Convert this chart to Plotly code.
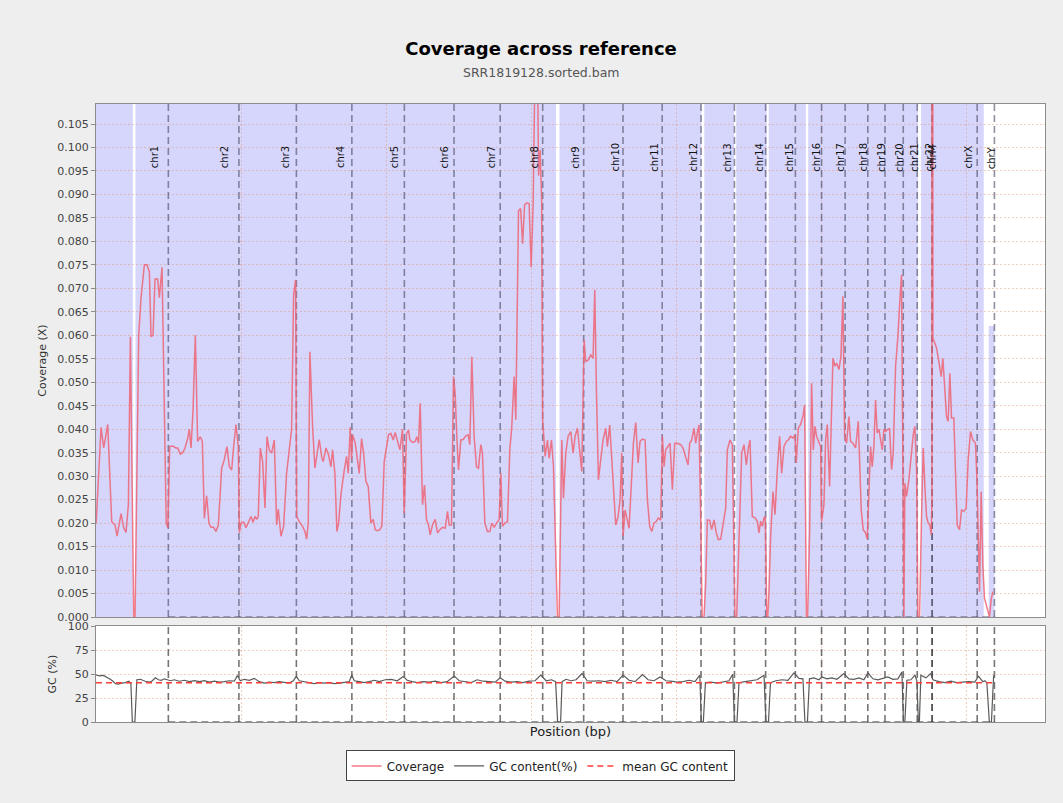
import plotly.graph_objects as go

# ---------------- data ----------------
chrom_names = ["chr1", "chr2", "chr3", "chr4", "chr5", "chr6", "chr7", "chr8", "chr9", "chr10",
               "chr11", "chr12", "chr13", "chr14", "chr15", "chr16", "chr17", "chr18", "chr19",
               "chr20", "chr21", "chr22", "chrM", "chrX", "chrY"]
chrom_lengths_mb = [249.25, 243.20, 198.02, 191.15, 180.92, 171.12, 159.14, 146.36, 141.21, 135.53,
                    135.01, 133.85, 115.17, 107.35, 102.53, 90.35, 81.20, 78.08, 59.13,
                    63.03, 48.13, 51.30, 0.017, 155.27, 59.37]

# coverage (X) along the genome, position in Mb
cov_pos_mb = [
    0.5, 17.5, 26.6, 40.4, 54.2, 65.7, 72.5, 86.3, 95.5, 103.5, 111.6, 118.5, 130, 134.5, 147.2, 155.2,
    166.7, 175.9, 183.9, 189.6, 196.5, 203.4, 212.6, 218.3, 227.5, 236, 242, 247.5,
    253.9, 264.2, 275.7, 281.5, 290.6, 298.7, 306.7, 315.9, 321.6, 327.4, 334.3, 342.3, 350.3, 359.5,
    366.4, 373.3, 381.3, 389.3, 396.2, 405.4, 413.5, 421.5, 433, 442.1, 451.3, 459.4, 467.4, 474.3,
    482.3, 490.3,
    494, 499.5, 508.7, 516.7, 524.8, 534, 540.9, 547.7, 554.6, 559.2, 566.1, 574.1, 582.2, 589.1,
    597.1, 605.1, 614.3, 622.4, 628.1, 637.3, 646.5, 656.8, 665.9, 674, 680.9, 687.8,
    691.5, 700.4, 711.9, 719.9, 725.7, 731.4, 737.1, 746.3, 754.3, 761.2, 769.3, 778.5, 783.1, 792.3,
    801.4, 809.5, 815.2, 823.2, 830.1, 835.9, 843.9, 855.4, 863.4, 869.2, 876, 880.6,
    884.1, 893.3, 901.3, 907.1, 915.1, 922, 930, 938, 947.2, 955.2, 962.1, 970.2, 978.2, 985.1,
    993.1, 1001.2, 1008, 1016.1, 1024.1, 1031, 1039, 1047.1, 1056.2, 1062,
    1070, 1076.9, 1081.5, 1090.7, 1099.9, 1105.6, 1111.3, 1117.1, 1125.1, 1132, 1138.9, 1145.8,
    1151.5, 1159.5, 1168.7, 1176.8, 1184.8, 1194, 1203.2, 1211.2, 1216.9, 1225, 1231.9,
    1237.6, 1243.3, 1249.1, 1257.1, 1265.1, 1274.3, 1282.4, 1288.1, 1295, 1303, 1311, 1317.9, 1326,
    1331.7, 1339.8, 1348.9, 1357, 1363.9, 1371.9, 1380, 1389.1, 1394.9,
    1400.6, 1408.7, 1417.8, 1425.9, 1432.7, 1440.8, 1446.5, 1455.9, 1463.1, 1470, 1476.9, 1485.5,
    1492.5, 1499.4, 1506.3, 1513.2, 1520.1, 1525.1, 1530.3, 1535.5, 1538.9,
    1547.6, 1555.6, 1561.3, 1569.4, 1576.3, 1584.3, 1590, 1595.8, 1605, 1610.7, 1618.7, 1626.8, 1636,
    1644, 1650.9, 1658.9, 1667, 1673.8, 1681.9,
    1687.6, 1696.8, 1704.8, 1712.8, 1718.6, 1724.3, 1731.2, 1739.2, 1747.3, 1756.5, 1762.2, 1770.2,
    1777.1, 1784, 1790.9, 1798.9, 1805.8, 1811.5, 1816.1,
    1823, 1831.1, 1836.8, 1844.8, 1851.7, 1859.8, 1867.8, 1874.7, 1882.7, 1891.9, 1899.9, 1908,
    1914.9, 1922.9, 1930.9, 1937.8, 1945.9, 1951.6,
    1957.3, 1963.1, 1971.1, 1978, 1986, 1994.1, 2003.2, 2014.7, 2022.7, 2031.9, 2039.9, 2045.7,
    2052.6, 2060.6, 2066.4, 2072.1, 2077.8, 2083.6,
    2088.5, 2095.1, 2100.8, 2106.5, 2114.6, 2121.5, 2129.5, 2137.5, 2144.4, 2152.5, 2160.5, 2169.7,
    2175.4, 2184.6, 2192.6, 2198.4,
    2201.8, 2207.6, 2215.6, 2224.8, 2232.9, 2240.9, 2247.8, 2253.5, 2261.5, 2270.7, 2278.7, 2284.5,
    2290.2, 2295.9, 2301.7, 2306,
    2311.5, 2315, 2318.9, 2324.6, 2332.7, 2339.6, 2347.6, 2355.6, 2362.5, 2370.6, 2378.6, 2385.5,
    2393.5, 2401.5, 2408.4,
    2413, 2419.9, 2427.9, 2436, 2441.7, 2448, 2452, 2458.9, 2465.8, 2471.6, 2477.3, 2483, 2491.1, 2496.8,
    2500.3, 2508.3, 2514, 2519.8, 2527.8, 2533.5, 2539.3, 2546.2, 2551.9, 2559.9, 2566.8, 2573.7, 2579.5,
    2586.3, 2594.4, 2600.1, 2608.1, 2617.3, 2626.5, 2631.1, 2636.8, 2643.7, 2651.8, 2657.5,
    2663.3, 2669, 2674.7, 2680.5, 2686.2, 2691.9, 2697.7, 2703.4, 2709.2, 2714.9,
    2720.6, 2728.7, 2734.4, 2741.3, 2747, 2755.1, 2763.1, 2770, 2775.7, 2780.3,
    2783.8, 2787.2, 2792.9, 2801, 2809, 2815.9, 2821.6, 2827.4,
    2832, 2837.7, 2844.6, 2850.3, 2856.1, 2861.8, 2867.5, 2873.3, 2877.9, 2880.5,
    2881.03,
    2883.6, 2890.5, 2896.2, 2904.3, 2912.3, 2918.1, 2923.8, 2930.7, 2936.4, 2942.2, 2947.9, 2955.9,
    2961.7, 2967.4, 2975.5, 2982.3, 2990.4, 2998.4, 3005.3, 3013.3, 3021.4, 3030.5, 3036,
    3044.3, 3050.1, 3055.8, 3061.5, 3070.7, 3078.8, 3084.5, 3090.3,
]
cov_values = [
    0.020, 0.0404, 0.036, 0.041, 0.0203, 0.0196, 0.0172, 0.022, 0.019, 0.018, 0.024, 0.0597, 0, 0, 0.060, 0.068,
    0.075, 0.075, 0.0735, 0.0597, 0.060, 0.072, 0.072, 0.068, 0.0745, 0.038, 0.020, 0.019,
    0.0363, 0.0364, 0.036, 0.036, 0.0347, 0.035, 0.036, 0.038, 0.040, 0.036, 0.044, 0.060, 0.0374, 0.0384,
    0.0374, 0.021, 0.0258, 0.020, 0.0191, 0.0191, 0.0182, 0.0196, 0.0317, 0.0335, 0.0363, 0.032, 0.0313, 0.0363,
    0.041, 0.0363,
    0.018, 0.020, 0.0202, 0.019, 0.0202, 0.0214, 0.0202, 0.0214, 0.0208, 0.0215, 0.036, 0.0331, 0.0232, 0.0384,
    0.0356, 0.0349, 0.0377, 0.0196, 0.023, 0.0172, 0.0193, 0.0306, 0.0356, 0.040, 0.0686, 0.0718,
    0.0214, 0.0203, 0.0193, 0.0182, 0.0166, 0.020, 0.0565, 0.0405, 0.0317, 0.0349, 0.0378, 0.0338, 0.0331, 0.036,
    0.0345, 0.032, 0.0356, 0.0306, 0.0182, 0.020, 0.026, 0.0313, 0.0342, 0.0306, 0.0404, 0.0335,
    0.0388, 0.037, 0.0328, 0.0306, 0.038, 0.0349, 0.0289, 0.0278, 0.020, 0.0208, 0.0186, 0.0184, 0.0186, 0.0194,
    0.0331, 0.0363, 0.0388, 0.0391, 0.0377, 0.0393, 0.0374, 0.0356, 0.040, 0.0221,
    0.0391, 0.0398, 0.0377, 0.0372, 0.0374, 0.0384, 0.037, 0.0455, 0.0239, 0.0281, 0.0207, 0.0196,
    0.0175, 0.0196, 0.0208, 0.0179, 0.0186, 0.0191, 0.0189, 0.0225, 0.0196, 0.0196, 0.0512,
    0.0476, 0.0384, 0.0313, 0.0377, 0.0378, 0.0386, 0.0388, 0.0367, 0.0554, 0.0384, 0.032, 0.0317, 0.0367,
    0.0349, 0.020, 0.0182, 0.0182, 0.020, 0.0191, 0.020, 0.0207, 0.0306,
    0.0193, 0.020, 0.0203, 0.0356, 0.0406, 0.0512, 0.042, 0.0865, 0.087, 0.0795, 0.0878, 0.0882,
    0.088, 0.0745, 0.088, 0.120, 0.125, 0.094, 0.0995, 0.089, 0.042,
    0.0342, 0.0377, 0.0338, 0.0377, 0.032, 0.0143, 0, 0, 0.0377, 0.0253, 0.0349, 0.0385, 0.0395,
    0.0349, 0.0385, 0.0402, 0.0353, 0.031, 0.059,
    0.0544, 0.0548, 0.0558, 0.0551, 0.0697, 0.0484, 0.0292, 0.0335, 0.0377, 0.0402, 0.0363, 0.0409,
    0.0335, 0.0264, 0.0196, 0.0214, 0.025, 0.0349, 0.0172,
    0.0228, 0.0207, 0.0189, 0.0285, 0.037, 0.0414, 0.0328, 0.0374, 0.0379, 0.0377, 0.025, 0.0193,
    0.0182, 0.020, 0.0204, 0.0211, 0.0206, 0.0385,
    0.032, 0.0356, 0.0363, 0.037, 0.0271, 0.037, 0.037, 0.0367, 0.036, 0.0342, 0.0324, 0.037,
    0.0377, 0.0402, 0.037, 0.0392, 0.0409, 0.0214,
    0, 0, 0.0072, 0.0207, 0.0206, 0.0186, 0.0207, 0.0179, 0.0165, 0.0166, 0.020, 0.0232,
    0.0356, 0.0377, 0.0367, 0.0172,
    0, 0, 0.015, 0.0349, 0.0367, 0.0324, 0.036, 0.0377, 0.0214, 0.0211, 0.0204, 0.0179,
    0.0204, 0.0193, 0.0211, 0.0214,
    0, 0, 0.0054, 0.0172, 0.0267, 0.0218, 0.0314, 0.0385, 0.0306, 0.0363, 0.0374, 0.0377,
    0.0385, 0.0381, 0.0388,
    0.0328, 0.0402, 0.041, 0.0427, 0.0452, 0, 0, 0.0179, 0.0498, 0.0356, 0.0406, 0.0385, 0.0374, 0.0363,
    0.0204, 0.0239, 0.0377, 0.041, 0.0278, 0.042, 0.0551, 0.0534, 0.0541, 0.0527, 0.0555, 0.0683, 0.0385,
    0.037, 0.0427, 0.0374, 0.037, 0.036, 0.0417, 0.0335, 0.0228, 0.0186, 0.0179, 0.0166,
    0.025, 0.0363, 0.032, 0.0363, 0.0462, 0.0392, 0.040, 0.0377, 0.0356, 0.040,
    0.0395, 0.040, 0.0401, 0.0314, 0.0349, 0.0534, 0.0597, 0.0676, 0.0729, 0.032,
    0, 0.0285, 0.0257, 0.0292, 0.0349, 0.0388, 0.0406, 0.0314,
    0, 0, 0.0214, 0.036, 0.0278, 0.0214, 0.020, 0.0196, 0.0175, 0.025,
    0.90,
    0.0594, 0.0583, 0.0573, 0.0544, 0.0512, 0.0551, 0.0484, 0.0427, 0.0417, 0.0519, 0.0424, 0.0424,
    0.0306, 0.0196, 0.0186, 0.0228, 0.0225, 0.0232, 0.0335, 0.0395, 0.0377, 0.037, 0.0285,
    0.0054, 0.0267, 0.0111, 0.004, 0.0015, 0, 0.0037, 0.0054,
]

# GC content (%) along the genome, position in Mb
gc_pos_mb = [
    0, 11.7, 25.5, 35.8, 46.1, 56.5, 66.8, 77.1, 87.5, 101.2, 113.3, 120.2, 125.3, 134, 140.8, 152.9,
    163.2, 173.6, 183.9, 194.2, 204.5, 214.9, 225.2, 235.5, 245.8, 256.2, 270, 287.2, 304.4, 321.6,
    338.8, 356, 373.3, 390.5, 407.7, 424.9, 442.1, 459.4, 476.6, 486.9, 497.2, 511, 528.2, 545.4,
    562.7, 579.9, 597.1, 614.3, 631.5, 648.8, 666, 679.8, 690.1, 700.4, 717.6, 734.9, 752.1, 769.3,
    786.5, 803.7, 821, 838.2, 855.4, 872.6, 881.2, 889.8, 907, 924.3, 941.5, 958.7, 975.9, 996.6,
    1017.2, 1037.9, 1058.6, 1072.3, 1089.6, 1106.8, 1127.4, 1148.1, 1168.7, 1189.4, 1210, 1234.2,
    1251.4, 1272, 1292.7, 1313.3, 1334, 1354.7, 1375.3, 1392.5, 1409.8, 1430.4, 1451.1, 1471.7,
    1492.4, 1513.1, 1532.4, 1551, 1569.9, 1583.7, 1590.6, 1600.9, 1606, 1619.8, 1637, 1654.3, 1675,
    1692.1, 1712.8, 1733.4, 1754.1, 1774.7, 1795.4, 1816, 1836.7, 1857.4, 1883.2, 1902.2, 1922.8,
    1943.5, 1964.2, 1981.4, 2002, 2022.7, 2043.4, 2064, 2080.6, 2085.8, 2092.7, 2099.9, 2119.1,
    2139.8, 2160.5, 2181.1, 2193.9, 2200, 2208.7, 2215.6, 2236.3, 2256.9, 2277.6, 2301.7, 2308.6,
    2317.2, 2324, 2343, 2363.6, 2384.3, 2404.9, 2422.1, 2435.9, 2442.8, 2451.4, 2458.3, 2473.8,
    2491, 2501.3, 2518.6, 2535.8, 2553, 2577.1, 2594.3, 2611.5, 2628.8, 2646, 2659.8, 2677, 2694.2,
    2711.4, 2728.6, 2745.9, 2763.1, 2776.9, 2782.4, 2787.2, 2794.1, 2807.8, 2821.6, 2828.5, 2833.7,
    2837.1, 2842.3, 2859.5, 2876.7, 2883.6, 2904.3, 2924.9, 2945.6, 2966.3, 2986.9, 3007.6, 3028.3,
    3040.7, 3055.8, 3062.7, 3069.6, 3078.2, 3085.4, 3093,
]
gc_values = [
    49, 48, 48.5, 47, 45, 43, 40, 39.5, 40.5, 41, 42.5, 40, 0, 0, 44, 44.5,
    43, 42, 41.5, 43, 46, 44, 43.5, 45, 44, 43, 44, 42.5, 43.5, 42,
    43, 42, 43, 41.5, 42.5, 41.5, 42, 43, 42.5, 48.5, 43, 44.5, 43.5, 45.5,
    42, 40.5, 41.5, 41, 42, 41, 40.5, 43, 47.5, 43, 42, 41.5, 40, 41,
    40.5, 41, 40, 40.5, 41.5, 42, 49, 43, 42, 41, 42, 43.5, 42, 44,
    44.5, 43, 47.5, 43.5, 42, 41, 42, 41.5, 42.5, 41, 42, 48,
    43, 42, 41, 44, 42.5, 42, 41.5, 46, 42.5, 41.5, 42, 41,
    42.5, 43, 48.8, 43, 44, 42, 0, 0, 42, 44.5, 43, 44, 50.5,
    43, 42.5, 43, 42, 43.5, 42, 48.8, 43.5, 42, 49.5, 44, 43,
    47, 43, 42.5, 41.5, 42, 43.5, 42, 48.8, 0, 0, 41, 41.5,
    40.5, 42, 43, 49.8, 0, 0, 41, 42, 43, 44, 48.8, 0,
    0, 41, 43, 44, 43.5, 51.2, 45.5, 45, 0, 0, 45, 46,
    44, 47, 45, 46, 44.5, 50.5, 45, 44.5, 46, 44, 51.2, 45, 44,
    45.5, 47, 44.5, 45, 52, 0, 0, 43.5, 44, 48.8, 43, 0,
    0, 48.8, 46, 50.5, 44, 42, 41, 42.5, 41, 41.5, 42, 41.5,
    47.7, 42, 43, 41, 0, 0, 48.8,
]
mean_gc_content = 41.0

# stretches without any coverage (Mb) -> gaps in the deviation band
no_cov_regions_mb = [(127, 136), (1585, 1597), (2086, 2096), (2199, 2206), (2311, 2318),
                     (2446, 2454), (2832, 2843), (3059, 3076)]
band_full_height = 1.0       # deviation band far above the plotted range
chrY_tail_band = 0.062        # deviation band height at the last chrY windows

MB = 1e6
LAVENDER = "#d6d6fd"
GRID = "rgba(225,140,100,0.42)"

# ---------------- derived ----------------
ends = []
acc = 0.0
for L in chrom_lengths_mb:
    acc += L
    ends.append(acc)
starts = [e - L for e, L in zip(ends, chrom_lengths_mb)]
genome_end = ends[-1]
label_pos = [s + 0.8 * L for s, L in zip(starts, chrom_lengths_mb)]

fig = go.Figure()

# chromosome boundary markers (top panel)
bx, by = [], []
for e in ends:
    bx += [e * MB, e * MB, None]
    by += [0, 1.0, None]
fig.add_trace(go.Scatter(x=bx, y=by, mode="lines", xaxis="x", yaxis="y", showlegend=False,
                         hoverinfo="skip",
                         line=dict(color="rgba(70,70,95,0.6)", width=1.6, dash="7px,4px")))
fig.add_trace(go.Scatter(x=[ends[0] * MB, genome_end * MB], y=[0, 0], mode="lines", xaxis="x", yaxis="y",
                         showlegend=False, hoverinfo="skip",
                         line=dict(color="rgba(70,70,95,0.6)", width=1.6, dash="7px,4px")))
# GC panel boundaries
gx, gy = [], []
for e in ends:
    gx += [e * MB, e * MB, None]
    gy += [0, 100, None]
fig.add_trace(go.Scatter(x=gx, y=gy, mode="lines", xaxis="x2", yaxis="y2", showlegend=False,
                         hoverinfo="skip",
                         line=dict(color="rgba(60,60,60,0.7)", width=1.6, dash="7px,4px")))
fig.add_trace(go.Scatter(x=[ends[0] * MB, genome_end * MB], y=[0, 0], mode="lines", xaxis="x2", yaxis="y2",
                         showlegend=False, hoverinfo="skip",
                         line=dict(color="rgba(60,60,60,0.7)", width=1.6, dash="7px,4px")))

# coverage
fig.add_trace(go.Scatter(x=[p * MB for p in cov_pos_mb], y=cov_values, mode="lines", name="Coverage",
                         xaxis="x", yaxis="y", line=dict(color="rgba(238,100,115,0.85)", width=1.5)))
# GC content
fig.add_trace(go.Scatter(x=[p * MB for p in gc_pos_mb], y=gc_values, mode="lines", name="GC content(%)",
                         xaxis="x2", yaxis="y2", line=dict(color="rgb(90,90,90)", width=1.2)))
fig.add_trace(go.Scatter(x=[0, genome_end * MB], y=[mean_gc_content, mean_gc_content], mode="lines",
                         name="mean GC content", xaxis="x2", yaxis="y2",
                         line=dict(color="rgb(255,60,60)", width=1.5, dash="6px,4px")))

# deviation band (lavender) drawn below the grid
shapes = []
seg_start = 0.0
for a, b in no_cov_regions_mb:
    shapes.append(dict(type="rect", xref="x", yref="y", x0=seg_start * MB, x1=a * MB, y0=0, y1=band_full_height,
                       fillcolor=LAVENDER, line=dict(width=0), layer="below"))
    seg_start = b
shapes.append(dict(type="rect", xref="x", yref="y", x0=seg_start * MB, x1=genome_end * MB, y0=0,
                   y1=chrY_tail_band, fillcolor=LAVENDER, line=dict(width=0), layer="below"))

annotations = []
for name, lp in zip(chrom_names, label_pos):
    annotations.append(dict(x=lp * MB, y=0.0979, xref="x", yref="y", text=name, textangle=-90,
                            showarrow=False, font=dict(family="DejaVu Sans", size=10, color="#111")))
annotations.append(dict(x=0.469, y=1.0502, xref="paper", yref="paper", text="SRR1819128.sorted.bam",
                        showarrow=False, yanchor="middle",
                        font=dict(family="DejaVu Sans", size=12.5, color="#555")))

XR = [0, 3270 * MB]
axis_common = dict(showline=True, mirror=True, linecolor="#8c8c8c", linewidth=1, zeroline=False)

fig.update_layout(
    width=1063, height=803,
    margin=dict(l=96, r=18, t=104, b=81),
    paper_bgcolor="#eeeeee", plot_bgcolor="white",
    font=dict(family="DejaVu Sans", color="#444"),
    title=dict(text="<b>Coverage across reference</b>", x=541 / 1063, xref="container", xanchor="center",
               y=1 - 49 / 803, yref="container", yanchor="middle",
               font=dict(family="DejaVu Sans", size=18, color="#000")),
    xaxis=dict(domain=[0, 1], anchor="y", range=XR, showticklabels=False, ticks="", tick0=0, dtick=500 * MB,
               showgrid=True, gridcolor=GRID, griddash="2px,2px", gridwidth=1, **axis_common),
    yaxis=dict(domain=[0.1699, 1], anchor="x", range=[0, 0.10926], tickvals=[i * 0.005 for i in range(22)],
               tickformat=".3f", ticks="outside", ticklen=4, tickcolor="#8c8c8c",
               tickfont=dict(size=11, color="#444"),
               showgrid=True, gridcolor=GRID, griddash="2px,2px", gridwidth=1,
               title=dict(text="Coverage (X)", font=dict(size=11, color="#333"), standoff=8),
               **axis_common),
    xaxis2=dict(domain=[0, 1], anchor="y2", range=XR, showticklabels=False, ticks="", tick0=0, dtick=500 * MB,
                matches="x", showgrid=True, gridcolor=GRID, griddash="2px,2px", gridwidth=1,
                title=dict(text="Position (bp)", font=dict(size=13, color="#222"), standoff=4),
                **axis_common),
    yaxis2=dict(domain=[0, 0.1553], anchor="x2", range=[0, 100], tickvals=[0, 25, 50, 75, 100],
                ticks="outside", ticklen=4, tickcolor="#8c8c8c", tickfont=dict(size=11, color="#444"),
                showgrid=True, gridcolor=GRID, griddash="2px,2px", gridwidth=1,
                title=dict(text="GC (%)", font=dict(size=11, color="#333"), standoff=8),
                **axis_common),
    shapes=shapes,
    annotations=annotations,
    showlegend=True,
    legend=dict(orientation="h", x=0.468, xanchor="center", y=-0.046, yanchor="top",
                bgcolor="white", bordercolor="#444", borderwidth=1,
                font=dict(size=12, color="#222"), itemwidth=30, tracegroupgap=0),
)

fig.write_html("out.html", post_script="document.body.style.margin='0';",
               config={"displayModeBar": False})
